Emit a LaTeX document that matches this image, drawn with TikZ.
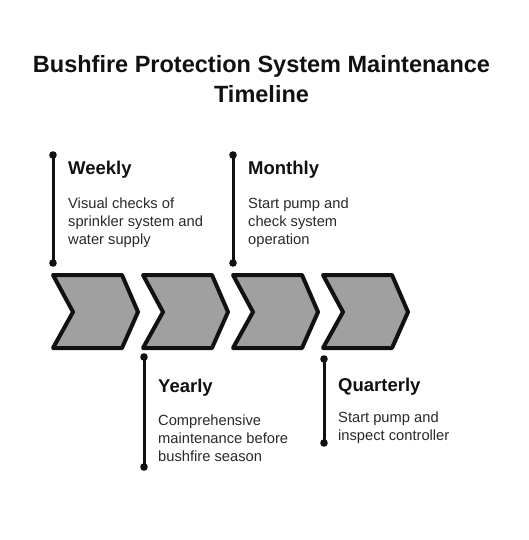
\documentclass[tikz,border=0pt]{standalone}
\usepackage{fontspec}
\setmainfont{Liberation Sans}
\definecolor{chevfill}{RGB}{160,160,160}
\definecolor{inkc}{RGB}{17,17,17}
\tikzset{
  chev/.style={draw=inkc, fill=chevfill, line width=4pt, line join=round},
  bar/.style={draw=inkc, line width=3pt},
  dotend/.style={fill=inkc},
  heading/.style={anchor=base west, inner sep=0pt, font=\fontsize{18.5}{22}\selectfont\bfseries, text=inkc},
  body/.style={anchor=north west, inner sep=0pt, align=left, font=\fontsize{14.7}{18}\selectfont, text=inkc!90!white},
  titlestyle/.style={anchor=north, inner sep=0pt, align=center, font=\fontsize{23.5}{30}\selectfont\bfseries, text=inkc}
}
\begin{document}
\begin{tikzpicture}[x=1pt,y=-1pt]
\useasboundingbox[fill=white] (0,0) rectangle (528,540);
\node[titlestyle] (title) at (261.5,55) {Bushfire Protection System Maintenance\\Timeline};
% chevrons
\foreach \i/\x in {1/53,2/143,3/233,4/323}{
  \draw[chev] (\x,275) -- (\x+69,275) -- (\x+85,312) -- (\x+69,348) -- (\x,348) -- (\x+20,312) -- cycle;
}
% bars
\coordinate (wt) at (53,155); \coordinate (wb) at (53,263);
\coordinate (mt) at (233,155); \coordinate (mb) at (233,263);
\coordinate (yt) at (144,357); \coordinate (yb) at (144,467);
\coordinate (qt) at (324,359); \coordinate (qb) at (324,443);
\foreach \a/\b in {wt/wb,mt/mb,yt/yb,qt/qb}{
  \draw[bar] (\a) -- (\b);
  \fill[dotend] (\a) circle (3.8pt);
  \fill[dotend] (\b) circle (3.8pt);
}
% texts
\node[heading] (wh) at (68,175) {Weekly};
\node[body] (wd) at (68,197.5) {Visual checks of\\sprinkler system and\\water supply};
\node[heading] (mh) at (248,175) {Monthly};
\node[body] (md) at (248,197.5) {Start pump and\\check system\\operation};
\node[heading] (yh) at (158,392) {Yearly};
\node[body] (yd) at (158,414.5) {Comprehensive\\maintenance before\\bushfire season};
\node[heading] (qh) at (338,391) {Quarterly};
\node[body] (qd) at (338,411.5) {Start pump and\\inspect controller};
\end{tikzpicture}
\end{document}
